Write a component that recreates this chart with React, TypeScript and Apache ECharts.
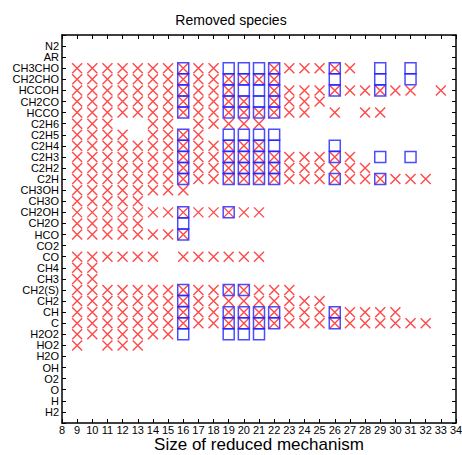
import React, { useEffect, useRef } from "react";
import * as echarts from "echarts";

const species = [
  "H2", "H", "O", "O2", "OH", "H2O", "HO2", "H2O2", "C", "CH", "CH2", "CH2(S)",
  "CH3", "CH4", "CO", "CO2", "HCO", "CH2O", "CH2OH", "CH3O", "CH3OH", "C2H",
  "C2H2", "C2H3", "C2H4", "C2H5", "C2H6", "HCCO", "CH2CO", "HCCOH", "CH2CHO",
  "CH3CHO", "AR", "N2",
];

const rng = (a: number, b: number) => {
  const r: number[] = [];
  for (let i = a; i <= b; i++) r.push(i);
  return r;
};

// sizes of reduced mechanism where each species is removed (red crosses), by species index
const crossSizes: number[][] = [
  [], // H2
  [], // H
  [], // O
  [], // O2
  [], // OH
  [], // H2O
  [9, 11, 12, 13], // HO2
  rng(9, 15), // H2O2
  rng(9, 32), // C
  rng(9, 30), // CH
  rng(9, 25), // CH2
  rng(9, 23), // CH2(S)
  [9, 10], // CH3
  [9, 10], // CH4
  [9, 10, 11, 12, 13, 14, 16, 17, 18, 19, 20, 21], // CO
  [], // CO2
  rng(9, 16), // HCO
  rng(9, 13), // CH2O
  rng(9, 21), // CH2OH
  rng(9, 13), // CH3O
  rng(9, 16), // CH3OH
  rng(9, 32), // C2H
  rng(9, 28), // C2H2
  rng(9, 27), // C2H3
  rng(9, 21), // C2H4
  [9, 10, 11, 12, 14, 15, 16, 17], // C2H5
  [9, 10, 11, 14, 15, 17, 18, 19, 20, 21], // C2H6
  [...rng(9, 24), 26, 28, 29], // HCCO
  [...rng(9, 20), ...rng(22, 25)], // CH2CO
  [...rng(9, 19), ...rng(22, 31), 33], // HCCOH
  rng(9, 22), // CH2CHO
  [...rng(9, 18), ...rng(22, 27)], // CH3CHO
  [], // AR
  [], // N2
];

// blue squares, by species index
const boxSizes: number[][] = [
  [], [], [], [], [], [], [], // H2..HO2
  [16, 19, 20, 21], // H2O2
  [16, 19, 20, 21, 22, 26], // C
  [16, 19, 20, 21, 22, 26], // CH
  [16], // CH2
  [16, 19, 20], // CH2(S)
  [], [], [], [], // CH3, CH4, CO, CO2
  [16], // HCO
  [16], // CH2O
  [16, 19], // CH2OH
  [], [], // CH3O, CH3OH
  [16, 19, 20, 21, 22, 26, 29], // C2H
  [16, 19, 20, 21, 22], // C2H2
  [16, 19, 20, 21, 22, 26, 29, 31], // C2H3
  [16, 19, 20, 21, 22, 26], // C2H4
  [16, 19, 20, 21, 22], // C2H5
  [], // C2H6
  [16, 19, 20, 21, 22], // HCCO
  [16, 19, 20, 21, 22], // CH2CO
  [16, 19, 20, 21, 22, 26, 29], // HCCOH
  [16, 19, 20, 21, 22, 26, 29, 31], // CH2CHO
  [16, 19, 20, 21, 22, 26, 29, 31], // CH3CHO
  [], [], // AR, N2
];

const xMin = 8;
const xMax = 34;

const toPoints = (rows: number[][]) => {
  const pts: [number, number][] = [];
  rows.forEach((xs, i) => xs.forEach((x) => pts.push([x, i + 1])));
  return pts;
};

const FONT = "Liberation Sans, Arial, sans-serif";

export default function App() {
  const ref = useRef<HTMLDivElement>(null);
  useEffect(() => {
    document.body.style.margin = "0";
    if (!ref.current) return;
    const chart = echarts.init(ref.current, undefined, { renderer: "svg" });
    const axisLine = { show: true, onZero: false, lineStyle: { color: "#000", width: 1.5 } };
    const axisTick = { show: true, inside: true, length: 4, lineStyle: { color: "#000", width: 1 } };
    chart.setOption({
      animation: false,
      backgroundColor: "#fff",
      title: {
        text: "Removed species",
        left: "center",
        top: 8,
        textStyle: { fontFamily: FONT, fontSize: 14, fontWeight: "normal", color: "#000" },
      },
      grid: { left: 62, right: 6, top: 35, bottom: 32, outerBoundsMode: "none", containLabel: false },
      xAxis: [
        {
          type: "value",
          min: xMin,
          max: xMax,
          interval: 1,
          position: "bottom",
          name: "Size of reduced mechanism",
          nameLocation: "middle",
          nameGap: 13,
          nameMoveOverlap: false,
          nameTextStyle: { fontFamily: FONT, fontSize: 17, color: "#000", verticalAlign: "top" },
          axisLine,
          axisTick,
          splitLine: { show: false },
          axisLabel: { fontFamily: FONT, fontSize: 11, color: "#000", margin: 1 },
        },
        {
          type: "value",
          min: xMin,
          max: xMax,
          interval: 1,
          position: "top",
          axisLine,
          axisTick,
          splitLine: { show: false },
          axisLabel: { show: false },
        },
      ],
      yAxis: [
        {
          type: "value",
          min: 0,
          max: species.length + 1,
          interval: 1,
          position: "left",
          axisLine,
          axisTick,
          splitLine: { show: false },
          axisLabel: {
            fontFamily: FONT,
            fontSize: 11,
            color: "#000",
            margin: 3,
            formatter: (v: number) => species[v - 1] ?? "",
          },
        },
        {
          type: "value",
          min: 0,
          max: species.length + 1,
          interval: 1,
          position: "right",
          axisLine,
          axisTick,
          splitLine: { show: false },
          axisLabel: { show: false },
        },
      ],
      series: [
        {
          type: "scatter",
          data: toPoints(crossSizes),
          symbol: "path://M0,0L10,10M10,0L0,10",
          symbolSize: 10,
          itemStyle: { color: "transparent", borderColor: "#ff1a1a", borderWidth: 1.4 },
          z: 2,
        },
        {
          type: "scatter",
          data: toPoints(boxSizes),
          symbol: "rect",
          symbolSize: 11,
          itemStyle: { color: "transparent", borderColor: "#1f1fff", borderWidth: 1.5 },
          z: 3,
        },
      ],
    });
    return () => chart.dispose();
  }, []);
  return <div ref={ref} style={{ width: 462, height: 455 }} />;
}
